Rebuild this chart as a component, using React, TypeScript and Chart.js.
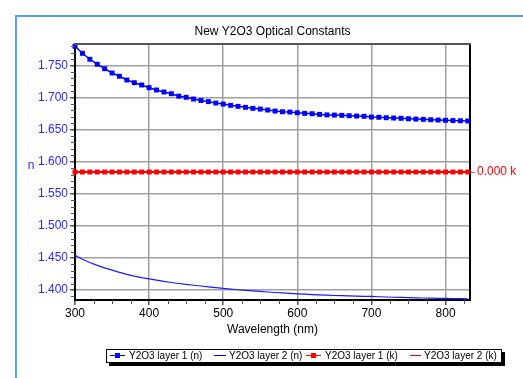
import React, { useEffect, useRef } from 'react';
import { Chart, registerables } from 'chart.js';
Chart.register(...registerables);

const wavelengths = [300, 310, 320, 330, 340, 350, 360, 370, 380, 390, 400, 410, 420, 430, 440, 450, 460, 470, 480, 490, 500, 510, 520, 530, 540, 550, 560, 570, 580, 590, 600, 610, 620, 630, 640, 650, 660, 670, 680, 690, 700, 710, 720, 730, 740, 750, 760, 770, 780, 790, 800, 810, 820, 830];
const layer1N = [1.7800, 1.7690, 1.7597, 1.7519, 1.7450, 1.7383, 1.7332, 1.7274, 1.7232, 1.7196, 1.7154, 1.7118, 1.7087, 1.7060, 1.7022, 1.7004, 1.6977, 1.6954, 1.6937, 1.6915, 1.6899, 1.6879, 1.6863, 1.6848, 1.6832, 1.6821, 1.6806, 1.6790, 1.6779, 1.6774, 1.6763, 1.6754, 1.6748, 1.6738, 1.6730, 1.6727, 1.6723, 1.6717, 1.6712, 1.6708, 1.6697, 1.6693, 1.6686, 1.6681, 1.6677, 1.6670, 1.6665, 1.6661, 1.6655, 1.6650, 1.6646, 1.6641, 1.6639, 1.6635];
const layer2N = [1.4541, 1.4480, 1.4430, 1.4385, 1.4345, 1.4310, 1.4275, 1.4245, 1.4218, 1.4195, 1.4175, 1.4155, 1.4135, 1.4118, 1.4102, 1.4088, 1.4075, 1.4063, 1.4050, 1.4038, 1.4025, 1.4015, 1.4005, 1.3995, 1.3987, 1.3978, 1.3970, 1.3962, 1.3955, 1.3948, 1.3942, 1.3936, 1.3930, 1.3925, 1.3920, 1.3915, 1.3912, 1.3909, 1.3906, 1.3903, 1.3900, 1.3896, 1.3892, 1.3888, 1.3885, 1.3882, 1.3879, 1.3876, 1.3873, 1.3871, 1.3869, 1.3867, 1.3865, 1.3863];
const layer1K = [0, 0, 0, 0, 0, 0, 0, 0, 0, 0, 0, 0, 0, 0, 0, 0, 0, 0, 0, 0, 0, 0, 0, 0, 0, 0, 0, 0, 0, 0, 0, 0, 0, 0, 0, 0, 0, 0, 0, 0, 0, 0, 0, 0, 0, 0, 0, 0, 0, 0, 0, 0, 0, 0];
const layer2K = [0, 0, 0, 0, 0, 0, 0, 0, 0, 0, 0, 0, 0, 0, 0, 0, 0, 0, 0, 0, 0, 0, 0, 0, 0, 0, 0, 0, 0, 0, 0, 0, 0, 0, 0, 0, 0, 0, 0, 0, 0, 0, 0, 0, 0, 0, 0, 0, 0, 0, 0, 0, 0, 0];

const xTicks = [300, 400, 500, 600, 700, 800];
const yTicks = [1.4, 1.45, 1.5, 1.55, 1.6, 1.65, 1.7, 1.75];
const kTicks = [0];
const seriesNames = ['Y2O3 layer 1 (n)', 'Y2O3 layer 2 (n)', 'Y2O3 layer 1 (k)', 'Y2O3 layer 2 (k)'];
const chartTitle = 'New Y2O3 Optical Constants';
const xTitle = 'Wavelength (nm)';
const yTitle = 'n';

const FONT = '"Liberation Sans", Arial, sans-serif';
const BLUE = '#0000ff';
const BLUE_TEXT = '#2a2aff';
const RED = '#ff0000';

const pts = (ys: number[]) => wavelengths.map((x, i) => ({ x, y: ys[i] }));

const decor = {
  id: 'decor',
  afterDraw(chart: any) {
    const { ctx, chartArea } = chart;
    const xs = chart.scales.x;
    const ys = chart.scales.y;
    ctx.save();
    ctx.strokeStyle = '#555';
    ctx.lineWidth = 2;
    ctx.beginPath();
    ctx.moveTo(chartArea.left - 1, chartArea.top);
    ctx.lineTo(chartArea.right + 1, chartArea.top);
    ctx.stroke();
    ctx.strokeStyle = '#555';
    ctx.lineWidth = 1;
    for (let v = 325; v <= 825; v += 25) {
      if (v % 100 === 0) continue;
      const px = Math.round(xs.getPixelForValue(v)) + 0.5;
      ctx.beginPath();
      ctx.moveTo(px, chartArea.bottom);
      ctx.lineTo(px, chartArea.bottom + 4);
      ctx.stroke();
    }
    for (let v = 139; v <= 178; v += 1) {
      if (v % 5 === 0) continue;
      const py = Math.round(ys.getPixelForValue(v / 100)) + 0.5;
      ctx.beginPath();
      ctx.moveTo(chartArea.left - 4, py);
      ctx.lineTo(chartArea.left, py);
      ctx.stroke();
    }
    const cx = (chartArea.left + chartArea.right) / 2;
    ctx.font = `12px ${FONT}`;
    ctx.fillStyle = '#000';
    ctx.textAlign = 'center';
    ctx.textBaseline = 'middle';
    ctx.fillText(chartTitle, cx, 32);
    ctx.fillText(xTitle, cx, 330);
    ctx.fillStyle = BLUE_TEXT;
    ctx.fillText(yTitle, 31, 166);
    ctx.restore();
  },
};

function LegendSwatch({ color, marker, left, width }: { color: string; marker: boolean; left: number; width: number }) {
  return (
    <div style={{ position: 'absolute', left, top: 355, width, height: 1, background: color }}>
      {marker && (
        <div style={{ position: 'absolute', left: (width - 5) / 2, top: -2, width: 5, height: 5, background: color }} />
      )}
    </div>
  );
}

export default function App() {
  const ref = useRef<HTMLCanvasElement>(null);
  useEffect(() => {
    if (!ref.current) return;
    const chart = new Chart(ref.current, {
      type: 'line',
      data: {
        datasets: [
          {
            label: seriesNames[0],
            data: pts(layer1N),
            borderColor: BLUE,
            backgroundColor: BLUE,
            borderWidth: 1.5,
            pointStyle: 'rect',
            pointRadius: 3.5,
            pointBorderWidth: 0,
            yAxisID: 'y',
            clip: false,
          },
          {
            label: seriesNames[1],
            data: pts(layer2N),
            borderColor: '#1a1aff',
            borderWidth: 1.2,
            pointRadius: 0,
            yAxisID: 'y',
          },
          {
            label: seriesNames[2],
            data: pts(layer1K),
            borderColor: RED,
            backgroundColor: RED,
            borderWidth: 2,
            pointStyle: 'rect',
            pointRadius: 3.5,
            pointBorderWidth: 0,
            yAxisID: 'k',
            clip: false,
          },
          {
            label: seriesNames[3],
            data: pts(layer2K),
            borderColor: RED,
            borderWidth: 1,
            pointRadius: 0,
            yAxisID: 'k',
          },
        ],
      },
      options: {
        responsive: false,
        animation: false,
        events: [],
        layout: { padding: { top: 44, left: 0, right: 0, bottom: 0 } },
        plugins: { legend: { display: false }, tooltip: { enabled: false }, title: { display: false } },
        scales: {
          x: {
            type: 'linear',
            min: 300,
            max: 833,
            afterBuildTicks: (axis: any) => {
              axis.ticks = xTicks.map((value) => ({ value }));
            },
            afterFit: (axis: any) => {
              axis.height = 78;
            },
            ticks: {
              color: '#000',
              font: { family: FONT, size: 12 },
              padding: 1,
              maxRotation: 0,
              autoSkip: false,
              callback: (v: any) => String(v),
            },
            grid: { color: '#a0a0a0', lineWidth: 1.5, tickColor: '#555', tickLength: 5, drawTicks: true },
            border: { display: true, color: '#000', width: 2 },
          },
          y: {
            type: 'linear',
            position: 'left',
            min: 1.3845,
            max: 1.7835,
            afterBuildTicks: (axis: any) => {
              axis.ticks = yTicks.map((value) => ({ value }));
            },
            afterFit: (axis: any) => {
              axis.width = 75;
            },
            ticks: {
              color: BLUE_TEXT,
              font: { family: FONT, size: 12 },
              padding: 2,
              autoSkip: false,
              callback: (v: any) => Number(v).toFixed(3),
            },
            grid: { color: '#a0a0a0', lineWidth: 1.5, tickColor: '#555', tickLength: 5, drawTicks: true },
            border: { display: true, color: '#000', width: 2 },
          },
          k: {
            type: 'linear',
            position: 'right',
            min: -1,
            max: 1,
            afterBuildTicks: (axis: any) => {
              axis.ticks = kTicks.map((value) => ({ value }));
            },
            afterFit: (axis: any) => {
              axis.width = 53;
            },
            ticks: {
              color: RED,
              font: { family: FONT, size: 12 },
              padding: 2,
              autoSkip: false,
              callback: (v: any) => Number(v).toFixed(3) + ' k',
            },
            grid: { drawOnChartArea: false, tickColor: '#888', tickLength: 5, drawTicks: true },
            border: { display: true, color: '#000', width: 2 },
          },
        },
      },
      plugins: [decor],
    } as any);
    return () => chart.destroy();
  }, []);

  const legendText = { position: 'absolute' as const, top: 349, height: 13, lineHeight: '13px', fontSize: 10, fontFamily: FONT, color: '#000', whiteSpace: 'nowrap' as const };

  return (
    <div style={{ position: 'fixed', left: 0, top: 0, width: 523, height: 378, overflow: 'hidden', background: '#fff' }}>
      <div style={{ position: 'absolute', left: 15, top: 15, width: 600, height: 500, border: '2px solid #55a3f7' }} />
      <canvas ref={ref} width={523} height={378} style={{ position: 'absolute', left: 0, top: 0, width: 523, height: 378 }} />
      <div style={{ position: 'absolute', left: 106, top: 349, width: 394, height: 12, border: '1px solid #000', background: '#fff', boxShadow: '3px 3px 0 #000' }} />
      <LegendSwatch color={BLUE} marker={true} left={110} width={15} />
      <div style={{ ...legendText, left: 129 }}>{seriesNames[0]}</div>
      <LegendSwatch color={BLUE} marker={false} left={214} width={12} />
      <div style={{ ...legendText, left: 229 }}>{seriesNames[1]}</div>
      <LegendSwatch color={RED} marker={true} left={306} width={15} />
      <div style={{ ...legendText, left: 325 }}>{seriesNames[2]}</div>
      <LegendSwatch color={RED} marker={false} left={410} width={11} />
      <div style={{ ...legendText, left: 424 }}>{seriesNames[3]}</div>
    </div>
  );
}
